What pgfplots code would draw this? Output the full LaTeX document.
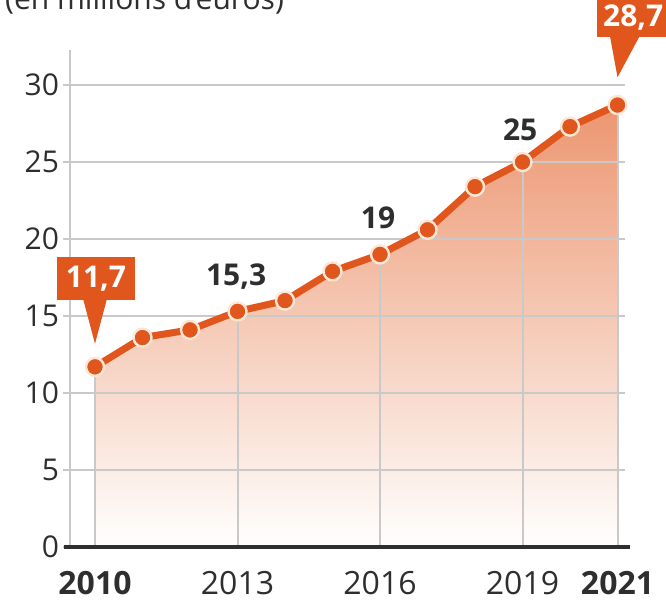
\documentclass[border=0pt]{standalone}
\usepackage{fontspec}
\setmainfont{Open Sans}
\usepackage{pgfplots}
\pgfplotsset{compat=1.18}
\definecolor{orng}{HTML}{E0561C}
\definecolor{cream}{HTML}{FCE6D6}
\definecolor{fillc}{HTML}{EC9670}
\definecolor{grd}{HTML}{C9C9C9}
\definecolor{txt}{HTML}{2E2E2E}
\begin{document}
\begin{tikzpicture}
\begin{axis}[
  set layers,
  x=23.75pt, y=7.7pt,
  xmin=2009.474, xmax=2021.147, ymin=0, ymax=32.3,
  clip=false,
  axis lines*=left,
  x axis line style={draw=none},
  y axis line style={grd, line width=1pt},
  ytick={0,5,10,15,20,25,30},
  xtick={2010,2013,2016,2019,2021},
  xticklabels={\textbf{2010},2013,2016,2019,\textbf{2021}},
  ymajorgrids,
  grid style={grd, line width=1pt},
  tick align=outside,
  major tick length=3.5pt,
  ytick style={grd, line width=1pt},
  xtick style={draw=none},
  /pgf/number format/assume math mode=true,
  yticklabel style={font=\fontsize{15}{18}\selectfont, text=txt, xshift=1.5pt},
  xticklabel style={font=\fontsize{16}{19}\selectfont, text=txt, yshift=-5pt},
]
\addplot[on layer=axis background, draw=none, top color=fillc, bottom color=white]
  coordinates {(2010,11.7)(2011,13.6)(2012,14.1)(2013,15.3)(2014,16.0)(2015,17.9)(2016,19)(2017,20.6)(2018,23.4)(2019,25)(2020,27.3)(2021,28.7)} \closedcycle;
\addplot[ycomb, color=grd, line width=1pt, no marks]
  coordinates {(2010,11.7)(2013,15.3)(2016,19)(2019,25)(2021,28.7)};
\addplot[orng, line width=3.5pt, mark=*, mark size=4.5pt, mark options={fill=orng, draw=cream, line width=1.2pt}]
  coordinates {(2010,11.7)(2011,13.6)(2012,14.1)(2013,15.3)(2014,16.0)(2015,17.9)(2016,19)(2017,20.6)(2018,23.4)(2019,25)(2020,27.3)(2021,28.7)};
\draw[txt, line width=2pt] (axis cs:2009.347,0) -- (axis cs:2021.263,0);
% callouts
\fill[orng] (axis cs:2009.2,16.04) rectangle (axis cs:2010.84,18.83);
\fill[orng] (axis cs:2009.75,16.1) -- (axis cs:2010.25,16.1) -- (axis cs:2010,13.2) -- cycle;
\node[text=white, font=\fontsize{15}{18}\selectfont\bfseries] at (axis cs:2010.02,17.43) {11,7};
\fill[orng] (axis cs:2020.57,33.12) rectangle (axis cs:2022.4,36.5);
\fill[orng] (axis cs:2020.84,33.2) -- (axis cs:2021.47,33.2) -- (axis cs:2021.0,30.5) -- cycle;
\node[text=white, font=\fontsize{15}{18}\selectfont\bfseries] at (axis cs:2021.33,34.4) {28,7};
\node[text=txt, font=\fontsize{15}{18}\selectfont\bfseries] at (axis cs:2012.97,17.53) {15,3};
\node[text=txt, font=\fontsize{15}{18}\selectfont\bfseries] at (axis cs:2015.96,21.36) {19};
\node[text=txt, font=\fontsize{15}{18}\selectfont\bfseries] at (axis cs:2018.95,27.08) {25};
\node[anchor=base west, text=txt, font=\fontsize{15}{18}\selectfont, inner sep=0pt] at (axis cs:2008.1,34.9) {(en millions d'euros)};
\coordinate (BL) at (axis cs:2008,-3.636);
\coordinate (TR) at (axis cs:2022.021,35.52);
\end{axis}
\pgfresetboundingbox
\useasboundingbox (BL) rectangle (TR);
\end{tikzpicture}
\end{document}
